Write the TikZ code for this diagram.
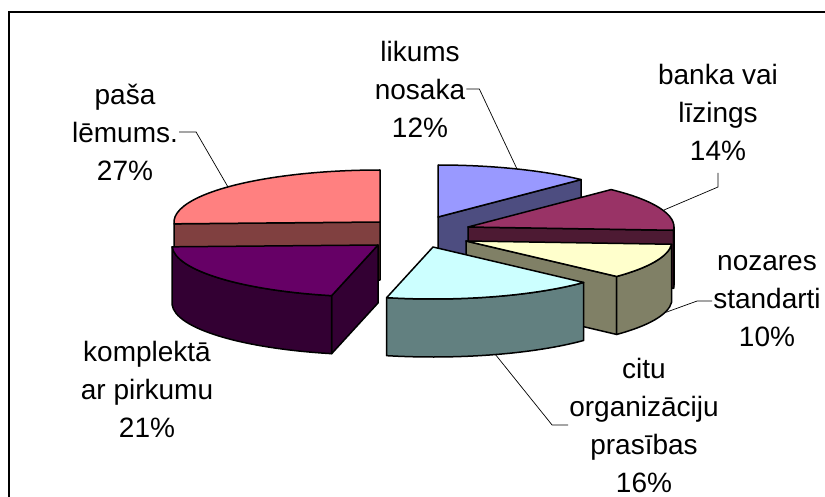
\documentclass[tikz,border=0pt]{standalone}
\usepackage{fontspec}
\setmainfont{Liberation Sans}
\usetikzlibrary{calc}

\definecolor{blueTop}{RGB}{153,153,255}
\definecolor{blueSide}{RGB}{77,77,128}
\definecolor{salmonTop}{RGB}{255,128,128}
\definecolor{salmonSide}{RGB}{128,64,64}
\definecolor{maroonTop}{RGB}{153,51,102}
\definecolor{maroonSide}{RGB}{77,26,51}
\definecolor{yellowTop}{RGB}{255,255,204}
\definecolor{yellowSide}{RGB}{128,128,102}
\definecolor{purpleTop}{RGB}{102,0,102}
\definecolor{purpleSide}{RGB}{51,0,51}
\definecolor{cyanTop}{RGB}{204,255,255}
\definecolor{cyanSide}{RGB}{98,128,128}

\tikzset{
  slice/.style={draw=black, line width=1.5, line join=round},
  leader/.style={draw=black, line width=0.7},
  lbl/.style={align=center, inner sep=1pt, font=\fontsize{28}{38}\selectfont},
}

\begin{document}
\begin{tikzpicture}[x=1pt,y=1pt,yscale=-1]
    \useasboundingbox (0,0) rectangle (825,497);

    %Chart frame
    \draw [line width=1.5] (825,12) -- (9,12) -- (9,497);

    %Slice: likums nosaka
    \draw [slice, fill=blueSide] (438,217) -- ++(-46:206 and 52) -- ++(0,58) -- (438,275) -- cycle;
    \draw [slice, fill=blueTop] (438,217) -- ++(-46:206 and 52) arc [start angle=-46, end angle=-90, x radius=206, y radius=52] -- cycle;

    %Slice: paša lēmums
    \draw [slice, fill=salmonSide] (380,222) -- ++(-182:206 and 52) -- ++(0,58) -- (380,280) -- cycle;
    \draw [slice, fill=salmonTop] (380,222) -- ++(-90:206 and 52) arc [start angle=-90, end angle=-182, x radius=206, y radius=52] -- cycle;

    %Slice: banka vai līzings
    \draw [slice, fill=maroonSide] (468,227) -- ++(-356.4:206 and 52) -- ++(0,58) -- (468,285) -- cycle;
    \draw [slice, fill=maroonSide] (468,227) ++(-356.4:206 and 52) arc [start angle=-356.4, end angle=-360, x radius=206, y radius=52] -- ++(0,58) arc [start angle=-360, end angle=-356.4, x radius=206, y radius=52] -- cycle;
    \draw [slice, fill=maroonTop] (468,227) -- ++(-356.4:206 and 52) arc [start angle=-356.4, end angle=-406, x radius=206, y radius=52] -- cycle;

    %Slice: nozares standarti
    \draw [slice, fill=yellowSide] (466,241) -- ++(-317:206 and 52) -- ++(0,58) -- (466,299) -- cycle;
    \draw [slice, fill=yellowSide] (466,241) ++(-317:206 and 52) arc [start angle=-317, end angle=-356.4, x radius=206, y radius=52] -- ++(0,58) arc [start angle=-356.4, end angle=-317, x radius=206, y radius=52] -- cycle;
    \draw [slice, fill=yellowTop] (466,241) -- ++(-317:206 and 52) arc [start angle=-317, end angle=-356.4, x radius=206, y radius=52] -- cycle;

    %Slice: komplektā ar pirkumu
    \draw [slice, fill=purpleSide] (378,245) -- ++(-257:206 and 52) -- ++(0,58) -- (378,303) -- cycle;
    \draw [slice, fill=purpleSide] (378,245) ++(-182:206 and 52) arc [start angle=-182, end angle=-257, x radius=206, y radius=52] -- ++(0,58) arc [start angle=-257, end angle=-182, x radius=206, y radius=52] -- cycle;
    \draw [slice, fill=purpleTop] (378,245) -- ++(-182:206 and 52) arc [start angle=-182, end angle=-257, x radius=206, y radius=52] -- cycle;

    %Slice: citu organizāciju prasības
    \draw [slice, fill=cyanSide] (433,247) ++(-257:206 and 52) arc [start angle=-257, end angle=-317, x radius=206, y radius=52] -- ++(0,58) arc [start angle=-317, end angle=-257, x radius=206, y radius=52] -- cycle;
    \draw [slice, fill=cyanTop] (433,247) -- ++(-257:206 and 52) arc [start angle=-257, end angle=-317, x radius=206, y radius=52] -- cycle;

    %Leader ends
    \coordinate (likPt) at (517,169);
    \coordinate (bankPt) at (664,210);
    \coordinate (nozPt) at (664,313);
    \coordinate (citPt) at (495,354);
    \coordinate (pasaPt) at (228,187);

    % Text Node
    \node [lbl] (lik) at (420,89) {likums\\nosaka\\12\%};
    % Text Node
    \node [lbl] (bank) at (718,112) {banka vai\\līzings\\14\%};
    % Text Node
    \node [lbl] (noz) at (767,301) {nozares\\standarti\\10\%};
    % Text Node
    \node [lbl] (cit) at (644,425) {citu\\organizāciju\\prasības\\16\%};
    % Text Node
    \node [lbl] (komp) at (147,389) {komplektā\\ar pirkumu\\21\%};
    % Text Node
    \node [lbl] (pasa) at (125,132) {paša\\lēmums.\\27\%};

    %Leaders
    \draw [leader] (lik.east) -- ++(13,0) -- (likPt);
    \draw [leader] ($(bank.center)+(0,61)$) -- ++(0,14) -- (bankPt);
    \draw [leader] (noz.west) -- ++(-15,0) -- (nozPt);
    \draw [leader] (cit.west) -- ++(-16,0) -- (citPt);
    \draw [leader] (pasa.east) -- ++(17,0) -- (pasaPt);

\end{tikzpicture}
\end{document}
